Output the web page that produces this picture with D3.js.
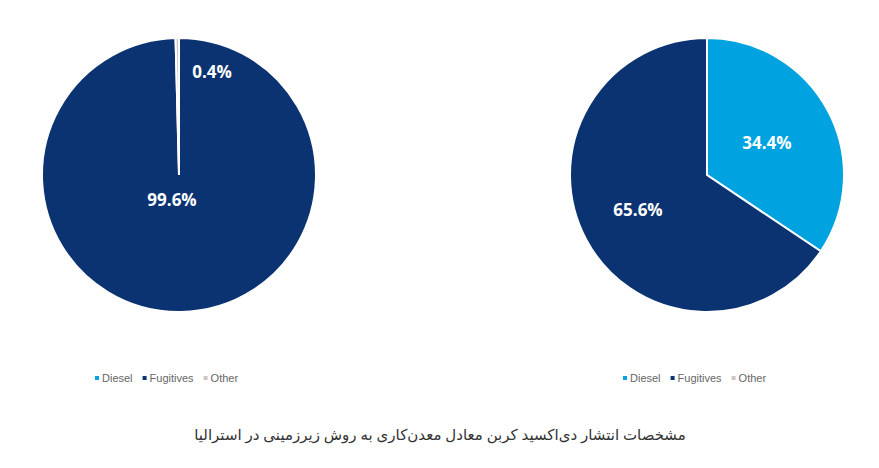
<!DOCTYPE html>
<html><head><meta charset="utf-8">
<script src="https://cdn.jsdelivr.net/npm/d3@7"></script>
<style>body{margin:0;background:#fff}</style>
</head><body>
<svg id="chart" width="879" height="468"></svg>
<script>
const categories = ["Diesel", "Fugitives", "Other"];
const leftValues = [0, 99.6, 0.4];
const rightValues = [34.4, 65.6, 0];
const colors = ["#00a3e0", "#0b3372", "#c8c8c8"];
const title = "مشخصات انتشار دی‌اکسید کربن معادل معدن‌کاری به روش زیرزمینی در استرالیا";

const svg = d3.select("#chart");
const pie = d3.pie().sort(null).value(d => d);
const R = 137;

function drawPie(cx, values, labelPos) {
  const g = svg.append("g").attr("transform", `translate(${cx},175)`);
  const arc = d3.arc().innerRadius(0).outerRadius(R);
  const arcs = pie(values);
  g.selectAll("path").data(arcs.filter(d => d.data > 0)).join("path")
    .attr("d", arc).attr("fill", d => colors[d.index])
    .attr("stroke", "#fff").attr("stroke-width", 2);
  arcs.forEach(d => {
    if (!labelPos[d.index]) return;
    g.append("text").attr("x", labelPos[d.index][0]).attr("y", labelPos[d.index][1])
      .attr("text-anchor", "middle").attr("dy", "0.35em")
      .attr("fill", "#fff").attr("font-family", "Open Sans, sans-serif")
      .attr("font-weight", "bold").attr("font-size", 17)
      .text(d.data.toFixed(1) + "%");
  });
  // legend
  const lg = svg.append("g").attr("transform", `translate(${cx - 84},378)`);
  let x = 0;
  categories.forEach((c, i) => {
    lg.append("rect").attr("x", x).attr("y", -2).attr("width", 4).attr("height", 4).attr("fill", colors[i]);
    const t = lg.append("text").attr("x", x + 7).attr("dy", "0.35em")
      .attr("font-family", "Liberation Sans, Arial, sans-serif").attr("font-size", 11)
      .attr("fill", "#666").text(c);
    x += t.node().getComputedTextLength() + 17;
  });
}

drawPie(179, leftValues, [null, [-7, 25], [33, -103]]);
drawPie(707, rightValues, [[60, -32], [-69, 35], null]);

svg.append("text").attr("x", 440).attr("y", 440).attr("text-anchor", "middle")
  .attr("direction", "rtl").attr("font-family", "Noto Sans, DejaVu Sans, sans-serif")
  .attr("font-size", 15).attr("fill", "#333").text(title);
</script>
</body></html>
